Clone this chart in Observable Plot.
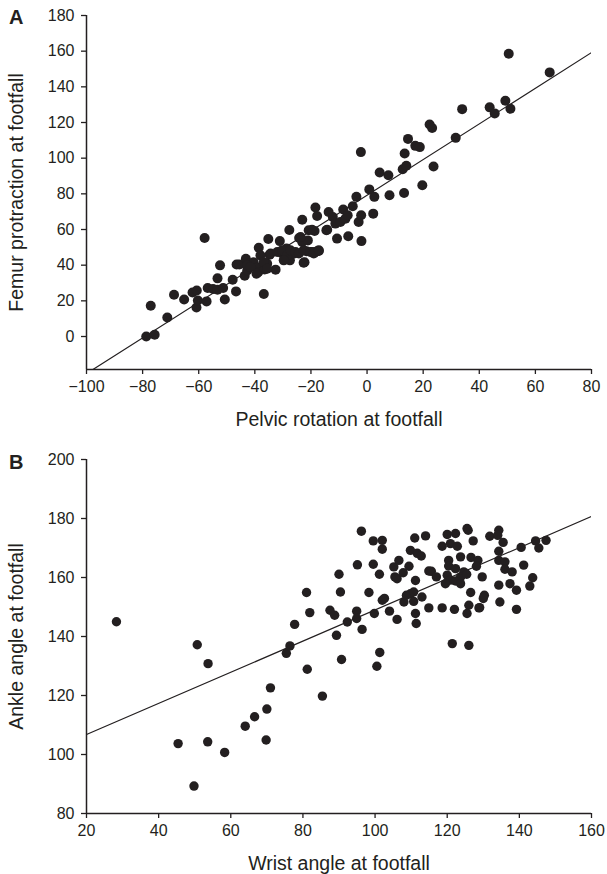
<!DOCTYPE html>
<html><head><meta charset="utf-8">
<script src="https://cdn.jsdelivr.net/npm/d3@7"></script>
<script src="https://cdn.jsdelivr.net/npm/@observablehq/plot@0.6"></script>
<style>
body{margin:0;background:#fff;}
#wrap{position:relative;width:607px;height:874px;font-family:"Liberation Sans",Arial,sans-serif;color:#231f20;overflow:hidden;}
.panel{position:absolute;left:0;}
.tag{position:absolute;font-weight:bold;font-size:20px;line-height:20px;}
g[aria-label="x-axis label"], g[aria-label="y-axis label"]{font-size:19.5px;}
</style></head><body><div id="wrap"></div>
<script>
// ---- Panel A data: pelvic rotation vs femur protraction at footfall ----
const pelvicRotation = [-78.7,-75.7,-77.1,-71.2,-68.8,-65.2,-62.2,-60.7,-60.8,-60.3,-57.2,-57.9,-56.8,-54.9,-53.3,-53.3,-52.4,-51.3,-50.7,-47.9,-46.7,-46.5,-45.5,-43.2,-43.6,-42.7,-41.9,-40.4,-39.2,-38.8,-38.6,-36.8,-36.5,-35.6,-35.2,-34.7,-32.6,-31.1,-30.3,-29.1,-28.3,-28.7,-27.7,-27.5,-25.9,-24.2,-23.1,-23.1,-22.3,-21.6,-20.8,-21.1,-19.6,-18.4,-17.2,-18.7,-18.4,-17.8,-14.5,-13.7,-12.2,-11.3,-10.7,-9.5,-8.5,-7.7,-6.9,-6.7,-5.1,-3.8,-3.0,-2.1,-2.0,0.8,2.2,2.6,8.0,13.2,-2.2,4.5,7.6,12.7,14.0,13.4,14.6,17.2,18.8,19.7,22.3,23.2,23.7,31.6,33.9,43.7,45.5,49.3,51.1,50.5,65.1,-19.6,-14.2,-23.7,-17.8,-22.6,-42.7,-41.6,-39.4,-38.0,-36.8,-35.6,-34.4,-32.0,-30.3,-28.5,-29.7,-27.3,-25.5,-24.3,-22.6,-20.2,-19.0,-17.2];
const femurProtraction = [0,1,17.2,10.7,23.4,20.8,24.7,25.8,16.3,20.2,19.7,55.2,27.2,26.6,32.6,26.2,39.9,27.2,20.8,31.8,25.3,40.4,40.4,43.6,34.1,37,40.8,41.7,38.6,36.1,49.8,23.8,37.6,40.8,54.7,45.9,37.5,53.5,46.5,47.4,45.1,49.3,59.7,42.7,46.5,55.2,65.5,53,41.6,47.8,59.6,53.9,47.4,47.4,47.9,59.2,72.3,67.6,59.6,69.8,67,63.3,54.9,64.2,71.2,66.1,68,56.2,73,78.3,64.2,68,53.5,82.5,68.9,78.3,79.2,80.5,103.4,92,90.4,93.8,95.7,102.6,110.8,106.9,106.2,84.8,118.9,116.9,95.3,111.4,127.5,128.5,125.1,132.2,127.7,158.6,148.1,59.9,59.9,55.8,47.8,41.4,39.9,38.9,35.2,45.5,41.7,38,46.5,47.4,48.3,45.5,42.7,48.3,47.4,46.5,48.3,47.4,46.5,48.3];

// ---- Panel B data: wrist angle vs ankle angle at footfall ----
const wristAngle = [28.3,45.4,49.8,50.7,53.7,53.6,58.3,64,66.6,70,71,69.8,75.4,76.4,77.7,81,81.9,81.2,85.4,87.5,88.8,89.3,90,90.4,90.7,92.3,94.9,94.9,95.1,96.4,96.2,98.3,99.5,99.5,99.8,100.5,101.2,101.3,102,102.6,102,102,104,105.2,106.1,106.1,106.6,105.5,107.8,108,108.7,109.8,110.7,109.8,111,114,111.7,112.8,111.2,109.4,114.9,115.6,117,113,110.7,114.9,118.6,122,111.4,111.2,118.6,120,122.3,120.9,122.8,123.7,120.4,120.4,122.3,124.6,123.7,125.4,120,120.9,122.3,119.5,123.7,125.5,125.8,127.2,126.6,128.5,128.1,129.7,126.5,126,125.5,129,130.3,130,131.8,134.3,134,135.5,134.3,134.3,136,136,138,134.3,137.4,139.2,134.6,139.2,140.5,141.2,143.7,142.9,144.5,145.4,147.4,121.4,126,128.8];
const ankleAngle = [145,103.7,89.3,137.2,130.8,104.3,100.7,109.6,112.8,115.4,122.6,104.9,134.3,136.8,144.1,154.9,148.1,128.9,119.8,148.9,147.2,140.4,161.1,155.1,132.2,144.9,148.6,146.1,164.3,142.4,175.7,154.9,164.5,172.4,147.8,129.9,161.1,134.6,152.3,152.9,172.6,169.6,148.6,163.6,159.6,145.8,165.8,160.2,161.6,151.7,154,154.5,155.1,169.2,173.4,174.1,168.2,167.3,159,163.8,162.2,162.1,160.2,153.4,151.9,149.7,149.7,149.2,144.4,147.8,170.6,174.6,174.9,171.5,170.6,167,165.8,163.9,163,161.9,160.2,161.1,160.8,159.1,158.8,157.9,157.9,176.6,176,172.4,166.8,165.8,163.8,160.2,154.9,150.6,147.8,149.8,154,152.9,174,176,174.3,171.9,168.9,165.8,165.3,162.8,161.9,157.4,157.9,155.7,151.7,149.2,170.2,164.2,159.9,157.1,172.4,170,172.6,137.6,137,149.7];

// fitted lines (slope, intercept) as drawn in the figure
const fitSlope = [1.0, 0.528];
const fitIntercept = [79.2, 96.2];

// axis ticks
const xTicksA = [-100,-80,-60,-40,-20,0,20,40,60,80];
const yTicksA = [0,20,40,60,80,100,120,140,160,180];
const xTicksB = [20,40,60,80,100,120,140,160];
const yTicksB = [80,100,120,140,160,180,200];

const ink = "#231f20";
const font = "'Liberation Sans', Arial, sans-serif";

const dataA = pelvicRotation.map((x, i) => ({x, y: femurProtraction[i]}));
const dataB = wristAngle.map((x, i) => ({x, y: ankleAngle[i]}));
const xDomA = [xTicksA[0], xTicksA[xTicksA.length - 1]];
const yDomA = [-18.5, yTicksA[yTicksA.length - 1]];
const xDomB = [xTicksB[0], xTicksB[xTicksB.length - 1]];
const yDomB = [yTicksB[0], yTicksB[yTicksB.length - 1]];
const lineA = xDomA.map(x => ({x, y: fitSlope[0] * x + fitIntercept[0]}));
const lineB = xDomB.map(x => ({x, y: fitSlope[1] * x + fitIntercept[1]}));

function panel(data, line, xDom, yDom, xTicks, yTicks, xLabel, yLabel, opts) {
  return Plot.plot({
    width: 607, height: opts.height,
    marginLeft: 86, marginRight: 16, marginTop: opts.marginTop, marginBottom: opts.marginBottom,
    style: {fontFamily: font, fontSize: "16px", color: ink, background: "white", overflow: "visible"},
    x: {domain: xDom},
    y: {domain: yDom},
    marks: [
      Plot.axisX({ticks: xTicks, tickSize: 5, tickPadding: 6, label: xLabel, labelAnchor: "center", labelArrow: "none", labelOffset: opts.xLabelOffset, fontSize: 16, stroke: ink, strokeWidth: 1.3, fill: ink}),
      Plot.axisY({ticks: yTicks, tickSize: 5, tickPadding: 7, label: yLabel, labelAnchor: "center", labelArrow: "none", labelOffset: opts.yLabelOffset, fontSize: 16, stroke: ink, strokeWidth: 1.3, fill: ink}),
      Plot.ruleX([xDom[0]], {stroke: ink, strokeWidth: 1.5}),
      Plot.ruleY([yDom[0]], {stroke: ink, strokeWidth: 1.5}),
      Plot.line(line, {x: "x", y: "y", stroke: ink, strokeWidth: 1.2, clip: true}),
      Plot.dot(data, {x: "x", y: "y", r: opts.r, fill: ink, stroke: "none"})
    ]
  });
}

const wrap = document.getElementById("wrap");
const A = panel(dataA, lineA, xDomA, yDomA, xTicksA, yTicksA, "Pelvic rotation at footfall", "Femur protraction at footfall",
  {height: 440, marginTop: 15, marginBottom: 71, xLabelOffset: 56, yLabelOffset: 77, r: 5});
A.classList.add("panel"); A.style.top = "0px";
const B = panel(dataB, lineB, xDomB, yDomB, xTicksB, yTicksB, "Wrist angle at footfall", "Ankle angle at footfall",
  {height: 434, marginTop: 19, marginBottom: 61, xLabelOffset: 56, yLabelOffset: 77, r: 4.7});
B.classList.add("panel"); B.style.top = "440px";
wrap.appendChild(A); wrap.appendChild(B);

for (const [t, top] of [["A", 7], ["B", 452]]) {
  const d = document.createElement("div");
  d.className = "tag"; d.textContent = t; d.style.left = "9px"; d.style.top = top + "px";
  wrap.appendChild(d);
}
</script></body></html>
